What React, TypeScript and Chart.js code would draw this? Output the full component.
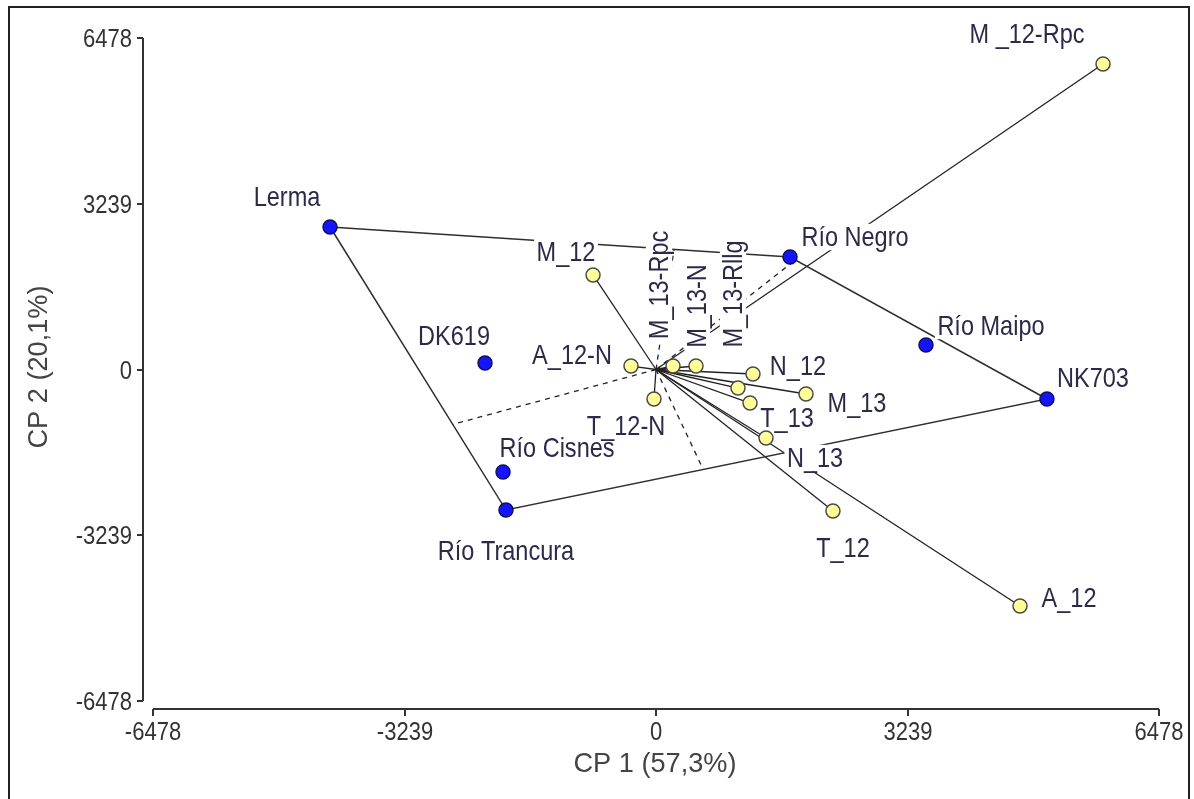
import React, { useEffect, useRef } from 'react';
import { Chart, registerables } from 'chart.js';

Chart.register(...registerables);

// ---------------- data ----------------
const genotypes = ['Lerma', 'Río Negro', 'Río Maipo', 'NK703', 'DK619', 'Río Cisnes', 'Río Trancura'];
const genoX = [-4198, 1726, 3477, 5035, -2202, -1970, -1932];
const genoY = [2785, 2198, 479, -576, 127, -2003, -2746];

const environments = ['M _12-Rpc', 'M_12', 'A_12-N', 'T_12-N', 'M_13-Rpc', 'M_13-N', 'M_13-Rllg', 'N_12', 'M_13', 'T_13', 'N_13', 'T_12', 'A_12'];
const envX = [5757, -811, -322, -26, 219, 515, 1056, 1249, 1932, 1211, 1417, 2279, 4688];
const envY = [5970, 1847, 68, -576, 68, 68, -362, -88, -479, -655, -1339, -2765, -4622];

// polygon vertices (genotype names, in drawing order)
const hullOrder = ['Lerma', 'Río Negro', 'NK703', 'Río Trancura'];

const axisTicks = [-6478, -3239, 0, 3239, 6478];
const axisMin = -6478;
const axisMax = 6478;
const xTitle = 'CP 1 (57,3%)';
const yTitle = 'CP 2 (20,1%)';

// ---------------- label placement (styling, px offsets from marker) ----------------
const genoLabelDx = [-43, 65, 65, 46, -31, 54, 0];
const genoLabelDy = [-30, -20, -19, -21, -27, -24, 41];
const envLabelDx = [-76, -27, -59, -28, -14, 1, -5, 45, 51, 37, 49, 10, 49];
const envLabelDy = [-30, -23, -11, 27, -81, -60, -94, -8, 9, 15, 20, 37, -8];
const envLabelRot = [0, 0, 0, 0, 1, 1, 1, 0, 0, 0, 0, 0, 0];

const FONT = '"Liberation Sans", Arial, "DejaVu Sans", sans-serif';

function drawScaledText(
  ctx: CanvasRenderingContext2D,
  text: string,
  x: number,
  y: number,
  size: number,
  sx: number,
  color: string,
  align: CanvasTextAlign,
  rot: number,
  bg: boolean
) {
  ctx.save();
  ctx.translate(x, y);
  if (rot) ctx.rotate(-Math.PI / 2);
  ctx.scale(sx, 1);
  ctx.font = `${size}px ${FONT}`;
  const w = ctx.measureText(text).width;
  if (bg) {
    ctx.fillStyle = '#ffffff';
    let left = -w / 2;
    if (align === 'right') left = -w;
    if (align === 'left') left = 0;
    ctx.fillRect(left - 3, -size * 0.47, w + 6, size * 0.94);
  }
  ctx.fillStyle = color;
  ctx.textAlign = align;
  ctx.textBaseline = 'middle';
  ctx.fillText(text, 0, 1);
  ctx.restore();
}

function footOnSegment(ax: number, ay: number, bx: number, by: number) {
  const dx = bx - ax;
  const dy = by - ay;
  const t = -(ax * dx + ay * dy) / (dx * dx + dy * dy);
  return { x: ax + t * dx, y: ay + t * dy };
}

export default function App() {
  const ref = useRef<HTMLCanvasElement | null>(null);

  useEffect(() => {
    if (!ref.current) return;

    const envPts = environments.map((_, i) => ({ x: envX[i], y: envY[i] }));
    const genoPts = genotypes.map((_, i) => ({ x: genoX[i], y: genoY[i] }));
    const hullPts = hullOrder.map((n) => {
      const i = genotypes.indexOf(n);
      return { x: genoX[i], y: genoY[i] };
    });
    const polygon = [...hullPts, hullPts[0]];

    const lineStyle = {
      type: 'scatter' as const,
      showLine: true,
      pointRadius: 0,
      pointHoverRadius: 0,
      fill: false,
      tension: 0,
    };

    const datasets: any[] = [
      {
        label: 'ambientes',
        data: envPts,
        showLine: false,
        pointRadius: 7,
        pointHoverRadius: 7,
        pointBackgroundColor: '#ffff99',
        pointBorderColor: '#4a4a4a',
        pointBorderWidth: 1.5,
        order: 0,
      },
      {
        label: 'genotipos',
        data: genoPts,
        showLine: false,
        pointRadius: 7,
        pointHoverRadius: 7,
        pointBackgroundColor: '#1414ff',
        pointBorderColor: '#10105a',
        pointBorderWidth: 1.5,
        order: 1,
      },
      {
        ...lineStyle,
        label: 'poligono',
        data: polygon,
        borderColor: '#2e2e2e',
        borderWidth: 1.5,
        order: 10,
      },
    ];

    envPts.forEach((p, i) => {
      datasets.push({
        ...lineStyle,
        label: 'vector-' + i,
        data: [{ x: 0, y: 0 }, p],
        borderColor: '#222222',
        borderWidth: 1.3,
        order: 11,
      });
    });

    for (let k = 0; k < hullPts.length; k++) {
      const a = hullPts[k];
      const b = hullPts[(k + 1) % hullPts.length];
      const f = footOnSegment(a.x, a.y, b.x, b.y);
      datasets.push({
        ...lineStyle,
        label: 'sector-' + k,
        data: [{ x: 0, y: 0 }, f],
        borderColor: '#222222',
        borderWidth: 1.3,
        borderDash: [5, 5],
        order: 12,
      });
    }

    let labelsDrawn = false;

    const biplotPlugin = {
      id: 'biplot',
      beforeDraw(chart: any) {
        labelsDrawn = false;
        const ctx = chart.ctx as CanvasRenderingContext2D;
        ctx.save();
        ctx.fillStyle = '#ffffff';
        ctx.fillRect(0, 0, chart.width, chart.height);
        // outer frame
        ctx.strokeStyle = '#222222';
        ctx.lineWidth = 2;
        ctx.beginPath();
        ctx.moveTo(9, 810);
        ctx.lineTo(9, 7);
        ctx.lineTo(1189, 7);
        ctx.lineTo(1189, 810);
        ctx.stroke();

        const xs = chart.scales.x;
        const ys = chart.scales.y;
        const yAxisX = 143;
        const xAxisY = 709;
        ctx.strokeStyle = '#333333';
        ctx.lineWidth = 2;
        // y axis
        ctx.beginPath();
        ctx.moveTo(yAxisX, ys.getPixelForValue(axisMax));
        ctx.lineTo(yAxisX, ys.getPixelForValue(axisMin));
        ctx.stroke();
        axisTicks.forEach((t) => {
          const py = Math.round(ys.getPixelForValue(t));
          ctx.beginPath();
          ctx.moveTo(yAxisX, py);
          ctx.lineTo(yAxisX - 6, py);
          ctx.stroke();
          drawScaledText(ctx, String(t), 132, py + 1, 25, 0.88, '#333333', 'right', 0, false);
        });
        // x axis
        ctx.beginPath();
        ctx.moveTo(xs.getPixelForValue(axisMin), xAxisY);
        ctx.lineTo(xs.getPixelForValue(axisMax), xAxisY);
        ctx.stroke();
        axisTicks.forEach((t) => {
          const px = Math.round(xs.getPixelForValue(t));
          ctx.beginPath();
          ctx.moveTo(px, xAxisY);
          ctx.lineTo(px, xAxisY + 7);
          ctx.stroke();
          drawScaledText(ctx, String(t), px, 732, 25, 0.88, '#333333', 'center', 0, false);
        });
        // titles
        drawScaledText(ctx, xTitle, 655, 763, 28, 0.97, '#444444', 'center', 0, false);
        drawScaledText(ctx, yTitle, 38, 367, 28, 0.97, '#444444', 'center', 1, false);
        ctx.restore();
      },
      beforeDatasetDraw(chart: any, args: any) {
        const ds = chart.data.datasets[args.index];
        if (labelsDrawn || (ds.label !== 'genotipos' && ds.label !== 'ambientes')) return;
        labelsDrawn = true;
        const ctx = chart.ctx as CanvasRenderingContext2D;
        const xs = chart.scales.x;
        const ys = chart.scales.y;
        const color = '#2c2a48';
        genotypes.forEach((name, i) => {
          const px = xs.getPixelForValue(genoX[i]) + genoLabelDx[i];
          const py = ys.getPixelForValue(genoY[i]) + genoLabelDy[i];
          drawScaledText(ctx, name, px, py, 28, 0.84, color, 'center', 0, true);
        });
        environments.forEach((name, i) => {
          const px = xs.getPixelForValue(envX[i]) + envLabelDx[i];
          const py = ys.getPixelForValue(envY[i]) + envLabelDy[i];
          drawScaledText(ctx, name, px, py, 28, 0.84, color, 'center', envLabelRot[i], true);
        });
      },
    };

    const chart = new Chart(ref.current, {
      type: 'scatter',
      data: { datasets },
      options: {
        responsive: false,
        animation: false,
        devicePixelRatio: 1,
        layout: { padding: { left: 153, right: 35, top: 38, bottom: 98 } },
        plugins: { legend: { display: false }, tooltip: { enabled: false } },
        events: [],
        scales: {
          x: { type: 'linear', min: axisMin, max: axisMax, display: false },
          y: { type: 'linear', min: axisMin, max: axisMax, display: false },
        },
      },
      plugins: [biplotPlugin],
    });

    return () => chart.destroy();
  }, []);

  return (
    <div style={{ position: 'fixed', left: 0, top: 0, width: 1194, height: 799, background: '#fff' }}>
      <canvas ref={ref} width={1194} height={799} style={{ display: 'block', width: 1194, height: 799 }} />
    </div>
  );
}
